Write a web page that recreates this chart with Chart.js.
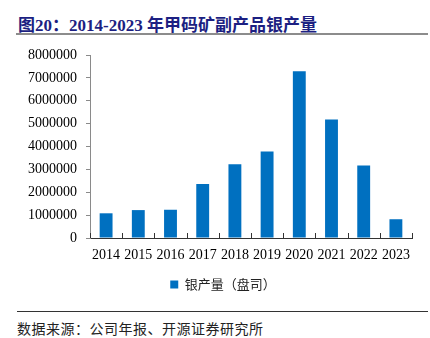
<!DOCTYPE html>
<html>
<head>
<meta charset="utf-8">
<script src="https://cdn.jsdelivr.net/npm/chart.js@4/dist/chart.umd.min.js"></script>
<style>
  body { margin: 0; width: 430px; height: 338px; background: #fff; position: relative; overflow: hidden; }
  #title { position: absolute; left: 18px; top: 11px; font: bold 17px "Liberation Serif", "Noto Sans CJK SC", serif; color: #1c1f82; white-space: nowrap; }
  #rule1 { position: absolute; left: 16px; top: 33px; width: 412px; height: 2px; background: #8c8c8c; }
  #rule2 { position: absolute; left: 17px; top: 311px; width: 411px; height: 1px; background: #333; }
  #source { position: absolute; left: 17px; top: 318px; font: 14px "Noto Sans CJK SC", sans-serif; letter-spacing: 0.5px; color: #222; white-space: nowrap; }
  #wrap { position: absolute; left: 0; top: 0; width: 430px; height: 305px; }
</style>
</head>
<body>
<div id="title">图20：2014-2023 年甲码矿副产品银产量</div>
<div id="rule1"></div>
<div id="wrap"><canvas id="newChart" width="430" height="305"></canvas></div>
<div id="rule2"></div>
<div id="source">数据来源：公司年报、开源证券研究所</div>
<script>
let years = ['2014', '2015', '2016', '2017', '2018', '2019', '2020', '2021', '2022', '2023']
let silverOz = [1080000, 1220000, 1235000, 2360000, 3220000, 3780000, 7290000, 5180000, 3170000, 820000]
let seriesName = '银产量（盘司）'
let yMax = 8000000
let yStep = 1000000

// short upward ticks between the categories on the x axis
const innerTicks = {
    id: 'innerTicks',
    afterDraw(chart) {
        const x = chart.scales.x
        const ctx = chart.ctx
        const bottom = chart.chartArea.bottom
        const step = x.getPixelForValue(1) - x.getPixelForValue(0)
        ctx.save()
        ctx.strokeStyle = '#333'
        ctx.lineWidth = 1
        for (let i = 0; i <= years.length; i++) {
            let px = x.getPixelForValue(0) - step / 2 + i * step
            px = Math.round(px) + 0.5
            ctx.beginPath()
            ctx.moveTo(px, bottom)
            ctx.lineTo(px, bottom - 5)
            ctx.stroke()
        }
        ctx.restore()
    }
}

// legend sits a bit right of the page centre, like the original
const legendShift = {
    id: 'legendShift',
    afterLayout(chart) {
        const lg = chart.legend
        lg.left += 34
        lg.width = lg.right - lg.left
    }
}

let newChart = document.getElementById('newChart').getContext('2d')

const barChart = new Chart(newChart, {
    type: 'bar',
    data: {
        labels: years,
        datasets: [{
            label: seriesName,
            data: silverOz,
            backgroundColor: '#0070C0',
            categoryPercentage: 1,
            barPercentage: 0.4
        }]
    },
    options: {
        responsive: false,
        animation: false,
        layout: { padding: { left: 0, right: 18, top: 55, bottom: 4 } },
        plugins: {
            legend: {
                position: 'bottom',
                labels: {
                    boxWidth: 8,
                    boxHeight: 8,
                    padding: 10,
                    color: '#222',
                    font: { family: '"Noto Sans CJK SC", sans-serif', size: 13 }
                }
            },
            tooltip: { enabled: false }
        },
        scales: {
            x: {
                grid: { display: false, drawTicks: false },
                border: { color: '#333', width: 1 },
                ticks: {
                    padding: 9,
                    color: '#000',
                    font: { family: '"Liberation Serif", serif', size: 14 },
                    maxRotation: 0,
                    autoSkip: false
                },
                afterFit(scale) { scale.height = 30 }
            },
            y: {
                min: 0,
                max: yMax,
                grid: { drawOnChartArea: false, tickLength: 4, color: '#8a8a8a' },
                border: { color: '#8a8a8a', width: 1 },
                ticks: {
                    stepSize: yStep,
                    padding: 9,
                    color: '#000',
                    font: { family: '"Liberation Serif", serif', size: 14 },
                    callback: v => String(v)
                },
                afterFit(scale) { scale.width = 90 }
            }
        }
    },
    plugins: [innerTicks, legendShift]
})
</script>
</body>
</html>
